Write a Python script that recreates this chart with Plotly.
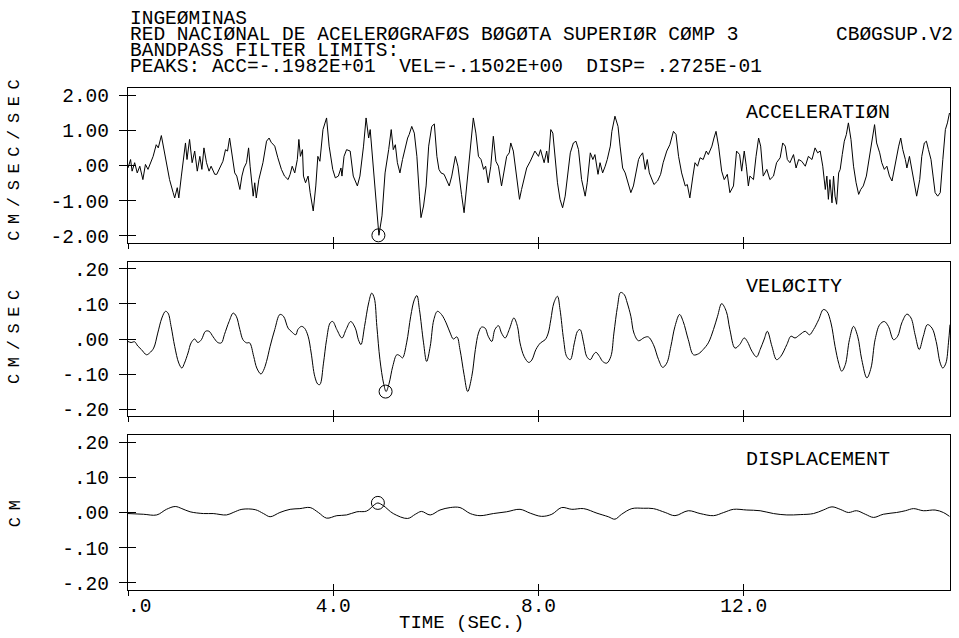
import plotly.graph_objects as go

# acceleration trace (cm/sec/sec)
acc_t = [0.00, 0.05, 0.08, 0.13, 0.18, 0.23, 0.29, 0.34, 0.39, 0.44, 0.49, 0.55, 0.59, 0.65, 0.70, 0.75,
         0.81, 0.88, 0.91, 0.96, 0.99, 1.04, 1.09, 1.12, 1.15, 1.20, 1.25, 1.30, 1.35, 1.40, 1.44, 1.48,
         1.53, 1.58, 1.62, 1.69, 1.73, 1.79, 1.85, 1.90, 1.94, 1.98, 2.03, 2.08, 2.12, 2.18, 2.22, 2.26,
         2.31, 2.35, 2.38, 2.44, 2.47, 2.50, 2.55, 2.63, 2.70, 2.75, 2.79, 2.86, 2.92, 2.99, 3.05, 3.12,
         3.16, 3.20, 3.25, 3.30, 3.33, 3.36, 3.40, 3.42, 3.46, 3.51, 3.55, 3.61, 3.66, 3.70, 3.74, 3.80,
         3.87, 3.92, 3.99, 4.04, 4.10, 4.15, 4.17, 4.21, 4.26, 4.33, 4.39, 4.47, 4.52, 4.59, 4.64, 4.69,
         4.72, 4.77, 4.82, 4.86, 4.89, 4.95, 5.01, 5.08, 5.13, 5.17, 5.21, 5.25, 5.30, 5.35, 5.40, 5.45,
         5.48, 5.53, 5.58, 5.63, 5.68, 5.71, 5.76, 5.81, 5.86, 5.92, 5.97, 6.02, 6.06, 6.10, 6.16, 6.21,
         6.26, 6.31, 6.38, 6.43, 6.47, 6.50, 6.55, 6.60, 6.67, 6.73, 6.78, 6.83, 6.88, 6.93, 6.97, 7.02,
         7.07, 7.12, 7.17, 7.22, 7.28, 7.33, 7.38, 7.43, 7.46, 7.51, 7.58, 7.63, 7.67, 7.72, 7.77, 7.84,
         7.93, 8.00, 8.04, 8.11, 8.16, 8.19, 8.24, 8.28, 8.32, 8.37, 8.42, 8.47, 8.52, 8.57, 8.62, 8.68,
         8.73, 8.78, 8.84, 8.91, 8.95, 9.01, 9.06, 9.10, 9.16, 9.20, 9.25, 9.30, 9.34, 9.40, 9.43, 9.49,
         9.55, 9.59, 9.64, 9.69, 9.74, 9.80, 9.85, 9.90, 9.95, 9.98, 10.03, 10.08, 10.12, 10.16, 10.21,
         10.25, 10.32, 10.38, 10.43, 10.50, 10.56, 10.63, 10.68, 10.73, 10.79, 10.86, 10.90, 10.95, 11.01,
         11.05, 11.10, 11.15, 11.21, 11.27, 11.31, 11.38, 11.42, 11.46, 11.51, 11.57, 11.62, 11.68, 11.73,
         11.80, 11.86, 11.92, 11.96, 12.01, 12.05, 12.09, 12.12, 12.19, 12.24, 12.29, 12.33, 12.38, 12.45,
         12.51, 12.58, 12.64, 12.71, 12.76, 12.81, 12.85, 12.90, 12.97, 13.02, 13.07, 13.13, 13.20, 13.26,
         13.33, 13.39, 13.44, 13.49, 13.54, 13.59, 13.62, 13.65, 13.68, 13.72, 13.75, 13.78, 13.81, 13.85,
         13.88, 13.92, 13.96, 14.00, 14.04, 14.09, 14.14, 14.19, 14.24, 14.28, 14.33, 14.39, 14.45, 14.50,
         14.55, 14.59, 14.65, 14.69, 14.74, 14.79, 14.84, 14.89, 14.93, 14.97, 15.02, 15.06, 15.10, 15.15,
         15.18, 15.23, 15.28, 15.32, 15.37, 15.43, 15.47, 15.52, 15.56, 15.60, 15.65, 15.69, 15.73, 15.78,
         15.83, 15.88, 15.93, 15.97, 16.01]
acc = [-0.07, 0.17, -0.16, 0.08, -0.21, -0.02, -0.40, 0.03, -0.11, 0.08, 0.26, 0.59, 0.50, 0.85, 0.45, -0.02,
       -0.40, -0.77, -0.92, -0.63, -0.92, -0.30, 0.36, 0.64, 0.17, 0.74, 0.08, 0.41, -0.16, 0.26, -0.11, 0.50,
       0.08, -0.16, -0.02, -0.25, -0.25, -0.07, 0.12, 0.45, 0.41, 0.78, 0.26, -0.21, -0.30, -0.68, -0.30, -0.07,
       0.08, 0.50, -0.02, -0.87, -0.49, -0.92, -0.40, 0.08, 0.69, 0.78, 0.66, 0.55, 0.22, -0.11, -0.30, -0.40,
       -0.25, -0.02, -0.21, 0.17, 0.74, 0.26, 0.45, -0.30, -0.49, -0.30, -0.77, -1.29, -0.58, 0.26, 0.12, 1.02,
       1.35, 0.55, -0.11, -0.35, -0.30, -0.07, -0.30, 0.26, 0.45, 0.41, -0.30, -0.58, -0.30, 0.55, 1.35, 0.78,
       1.02, 0.12, -0.68, -1.34, -1.98, -1.43, -0.21, 0.45, 1.02, 0.45, 0.59, 0.08, -0.21, 0.17, 0.50, 0.78,
       0.88, 1.11, 0.92, 0.26, -0.87, -1.48, -1.15, -0.58, 0.55, 1.11, 1.18, 0.26, -0.11, -0.21, -0.25, -0.40,
       -0.58, -0.30, 0.26, -0.02, -0.40, -0.82, -1.34, -0.58, 0.55, 1.35, 0.92, 0.26, 0.17, -0.11, -0.02, -0.49,
       -0.02, 0.83, 0.12, -0.02, -0.58, -0.11, 0.26, 0.36, 0.64, 0.41, -0.40, -0.96, -0.68, -0.40, -0.07, 0.12,
       0.41, 0.26, 0.45, 0.08, 0.41, 0.08, 1.02, 0.92, 0.26, -0.49, -0.96, -1.20, -0.87, -0.30, 0.36, 0.64,
       0.69, 0.45, -0.40, -0.87, -0.49, 0.36, 0.17, 0.31, -0.25, 0.08, -0.21, -0.02, 0.17, 0.55, 0.97, 1.40,
       1.11, 0.55, -0.07, -0.21, -0.49, -0.77, -0.58, -0.21, 0.17, 0.26, 0.36, -0.11, 0.17, -0.21, -0.40,
       -0.54, -0.44, -0.25, 0.08, 0.41, 0.59, 0.97, 0.88, 0.26, -0.21, -0.58, -0.54, -0.92, -0.30,
       0.08, -0.02, 0.22, 0.17, 0.41, 0.31, 0.55, 0.78, 0.97, 0.55, -0.16, -0.40, -0.25, -0.77,
       -0.58, 0.41, 0.31, -0.16, 0.41, -0.02, -0.58, -0.30, -0.40, 0.26, 0.78, 0.55, -0.30, -0.11,
       -0.40, -0.30, 0.08, 0.22, 0.64, 0.55, 0.17, 0.08, 0.31, -0.07, 0.17, 0.12, -0.02, 0.26,
       0.17, 0.50, 0.36, 0.41, -0.02, -0.68, -0.30, -0.96, -0.40, -1.06, -0.30, -0.87, -1.10, -0.21,
       -0.11, 0.31, 0.69, 0.88, 1.21, 0.74, -0.02, -0.49, -0.82, -0.68, -0.58, -0.30, 0.26, 0.83,
       1.16, 0.64, 0.36, 0.08, -0.11, -0.02, -0.30, -0.44, -0.11, 0.17, 0.55, 0.78, 0.45, 0.17,
       -0.07, 0.26, -0.11, -0.40, -0.87, -0.40, 0.26, 0.64, 0.69, 0.45, 0.17, -0.30, -0.77, -0.87,
       -0.77, 0.17, 1.02, 1.21, 1.49]

# velocity trace (cm/sec)
vel_t = [0.00, 0.06, 0.13, 0.19, 0.26, 0.36, 0.42, 0.50, 0.58, 0.66, 0.73, 0.78, 0.84, 0.91, 0.99, 1.05,
         1.10, 1.17, 1.23, 1.30, 1.36, 1.43, 1.51, 1.58, 1.66, 1.75, 1.82, 1.88, 1.97, 2.05, 2.11, 2.18,
         2.24, 2.31, 2.37, 2.45, 2.51, 2.59, 2.64, 2.70, 2.77, 2.86, 2.96, 3.03, 3.12, 3.18, 3.27, 3.31,
         3.38, 3.44, 3.51, 3.57, 3.64, 3.70, 3.74, 3.81, 3.87, 3.94, 3.99, 4.07, 4.17, 4.25, 4.34, 4.43,
         4.49, 4.54, 4.61, 4.69, 4.75, 4.80, 4.85, 4.91, 4.98, 5.03, 5.09, 5.16, 5.24, 5.30, 5.35, 5.43,
         5.51, 5.58, 5.63, 5.68, 5.76, 5.82, 5.89, 5.96, 6.03, 6.11, 6.20, 6.28, 6.34, 6.41, 6.47, 6.55,
         6.62, 6.70, 6.77, 6.83, 6.89, 6.96, 7.02, 7.09, 7.15, 7.22, 7.28, 7.35, 7.43, 7.52, 7.59, 7.64,
         7.72, 7.81, 7.87, 7.95, 8.04, 8.13, 8.19, 8.24, 8.30, 8.37, 8.42, 8.49, 8.55, 8.62, 8.70, 8.76,
         8.81, 8.88, 8.94, 9.01, 9.07, 9.12, 9.19, 9.25, 9.33, 9.41, 9.47, 9.54, 9.60, 9.67, 9.73, 9.80,
         9.86, 9.95, 10.06, 10.14, 10.24, 10.34, 10.42, 10.50, 10.58, 10.66, 10.75, 10.82, 10.92, 11.02,
         11.12, 11.21, 11.31, 11.41, 11.49, 11.57, 11.66, 11.73, 11.83, 11.92, 12.01, 12.07, 12.16, 12.25,
         12.32, 12.40, 12.46, 12.55, 12.64, 12.72, 12.84, 12.92, 13.00, 13.09, 13.20, 13.28, 13.36, 13.46,
         13.55, 13.62, 13.70, 13.78, 13.85, 13.91, 13.98, 14.06, 14.14, 14.22, 14.30, 14.40, 14.48, 14.56,
         14.65, 14.74, 14.82, 14.92, 15.00, 15.08, 15.18, 15.26, 15.34, 15.42, 15.50, 15.58, 15.67, 15.75,
         15.83, 15.88, 15.94, 15.99, 16.02]
vel = [-0.007, -0.010, -0.008, -0.020, -0.030, -0.045, -0.040, -0.026, 0.017, 0.060, 0.079, 0.074, 0.036, -0.021, -0.069, -0.083,
       -0.069, -0.040, -0.011, 0.000, -0.010, -0.002, 0.022, 0.022, 0.006, -0.010, -0.011, 0.013, 0.050, 0.074, 0.065, 0.027,
       -0.002, -0.011, -0.011, -0.050, -0.083, -0.100, -0.090, -0.064, -0.021, 0.027, 0.070, 0.065, 0.031, 0.022, 0.012, 0.027,
       0.036, 0.031, 0.008, -0.040, -0.107, -0.129, -0.130, -0.069, -0.002, 0.046, 0.050, 0.027, 0.003, 0.027, 0.050, 0.031,
       -0.002, -0.016, 0.036, 0.103, 0.131, 0.117, 0.036, -0.059, -0.126, -0.150, -0.126, -0.078, -0.045, -0.048, -0.054, -0.011,
       0.065, 0.112, 0.124, 0.084, -0.011, -0.064, -0.021, 0.055, 0.079, 0.070, 0.046, 0.017, 0.000, 0.006, -0.030, -0.102,
       -0.150, -0.107, -0.030, 0.017, 0.034, 0.031, 0.008, -0.007, 0.027, 0.038, 0.017, 0.003, 0.027, 0.060, 0.036, -0.011,
       -0.050, -0.067, -0.060, -0.030, -0.011, -0.002, 0.017, 0.055, 0.103, 0.122, 0.084, -0.002, -0.050, -0.059, -0.011, 0.022,
       0.027, -0.011, -0.050, -0.059, -0.045, -0.038, -0.050, -0.064, -0.069, -0.050, 0.017, 0.093, 0.133, 0.127, 0.103, 0.065,
       0.017, -0.005, 0.004, 0.006, -0.016, -0.059, -0.081, -0.069, -0.021, 0.036, 0.070, 0.050, -0.002, -0.045,
       -0.042, -0.030, -0.011, 0.027, 0.065, 0.101, 0.079, 0.027, -0.026, -0.016, 0.003, -0.007, -0.035, -0.051,
       -0.030, 0.000, 0.022, -0.021, -0.059, -0.050, -0.016, 0.008, 0.003, 0.012, 0.022, 0.012, 0.027, 0.055,
       0.084, 0.079, 0.046, -0.021, -0.069, -0.092, -0.073, -0.002, 0.036, 0.008, -0.059, -0.111, -0.083, -0.002,
       0.041, 0.050, 0.036, -0.002, 0.008, 0.046, 0.071, 0.060, 0.012, -0.030, 0.008, 0.041, 0.031, -0.007,
       -0.069, -0.083, -0.069, -0.011, 0.041]

# displacement trace (cm)
disp_t = [0.00, 0.30, 0.56, 0.75, 0.92, 1.05, 1.21, 1.47, 1.66, 1.92, 2.05, 2.22, 2.48, 2.64, 2.77, 2.96,
          3.16, 3.35, 3.55, 3.71, 3.87, 4.07, 4.26, 4.46, 4.65, 4.81, 4.87, 4.98, 5.17, 5.45, 5.60, 5.72,
          5.89, 6.08, 6.28, 6.47, 6.67, 6.86, 7.12, 7.38, 7.64, 7.84, 8.06, 8.26, 8.45, 8.65, 8.88, 9.14,
          9.36, 9.49, 9.62, 9.82, 10.05, 10.24, 10.47, 10.66, 10.92, 11.15, 11.41, 11.61, 11.80, 12.06,
          12.32, 12.58, 12.84, 13.10, 13.36, 13.55, 13.72, 13.88, 14.04, 14.20, 14.37, 14.53, 14.72, 14.98,
          15.15, 15.31, 15.50, 15.73, 15.89, 16.01]
disp = [-0.003, -0.005, -0.007, 0.009, 0.017, 0.011, 0.002, -0.003, -0.003, -0.007, 0.000, 0.009, 0.008, -0.003, -0.012, 0.000,
        0.009, 0.011, 0.014, 0.000, -0.016, -0.009, -0.007, 0.002, 0.004, 0.023, 0.027, 0.019, -0.003, -0.017, -0.005, 0.003,
        -0.007, 0.007, 0.014, 0.014, -0.003, -0.009, -0.003, 0.002, 0.009, -0.002, -0.011, -0.005, 0.014, 0.009, 0.011, -0.002,
        -0.012, -0.019, -0.005, 0.011, 0.012, 0.011, 0.000, -0.009, 0.005, -0.003, -0.009, 0.000, 0.009, 0.007,
        0.005, -0.003, -0.007, -0.006, -0.003, 0.007, 0.016, 0.009, 0.000, 0.005, -0.005, -0.014, -0.005, 0.000,
        0.005, 0.011, 0.005, 0.007, 0.000, -0.011]

# peak values marked with circles
peak_t = [4.88, 5.02, 4.87]
peak_v = [-1.982, -0.1502, 0.02725]

header = ["INGEØMINAS",
          "RED NACIØNAL DE ACELERØGRAFØS BØGØTA SUPERIØR CØMP 3",
          "BANDPASS FILTER LIMITS:",
          "PEAKS: ACC=-.1982E+01\u00a0\u00a0VEL=-.1502E+00\u00a0\u00a0DISP=\u00a0.2725E-01"]
file_tag = "CBØGSUP.V2"
panel_names = ["ACCELERATIØN", "VELØCITY", "DISPLACEMENT"]
units = ["CM/SEC/SEC", "CM/SEC", "CM"]

acc_ticks = [-2, -1, 0, 1, 2]
acc_labels = ["-2.00", "-1.00", ".00", "1.00", "2.00"]
small_ticks = [-0.2, -0.1, 0, 0.1, 0.2]
small_labels = ["-.20", "-.10", ".00", ".10", ".20"]
time_ticks = [0, 4, 8, 12]
time_labels = ["\u00a0\u00a0.0", "4.0", "8.0", "12.0"]

FONT = "Liberation Mono"
INK = "black"

domains = [[0.6912, 1.0], [0.3466, 0.6534], [0.0, 0.3088]]
yranges = [[-2.2, 2.2], [-0.22, 0.22], [-0.22, 0.22]]
xrange_ = [0, 16.02]

fig = go.Figure()
series = [(acc_t, acc, "linear"), (vel_t, vel, "spline"), (disp_t, disp, "spline")]
for i, (tt, vv, shp) in enumerate(series):
    n = "" if i == 0 else str(i + 1)
    fig.add_trace(go.Scatter(x=tt, y=vv, mode="lines", line=dict(color=INK, width=1, shape=shp),
                             xaxis="x" + n, yaxis="y" + n, showlegend=False, hoverinfo="skip"))
    fig.add_trace(go.Scatter(x=[peak_t[i]], y=[peak_v[i]], mode="markers",
                             marker=dict(symbol="circle-open", size=13, color=INK, line=dict(width=1)),
                             xaxis="x" + n, yaxis="y" + n, showlegend=False))
    # empty trace so the overlay axes (inner half of the tick crosses) get drawn
    fig.add_trace(go.Scatter(x=[None], y=[None], xaxis="x" + str(i + 4), yaxis="y" + str(i + 4),
                             showlegend=False))

tick_font = dict(family=FONT, size=19.5, color=INK)
layout = dict(width=959, height=638, plot_bgcolor="white", paper_bgcolor="white",
              margin=dict(l=128, r=9, t=88, b=48), showlegend=False)

for i in range(3):
    n = "" if i == 0 else str(i + 1)
    k = str(i + 4)
    yt = acc_ticks if i == 0 else small_ticks
    yl = acc_labels if i == 0 else small_labels
    layout["xaxis" + n] = dict(domain=[0, 1], anchor="y" + n, range=xrange_, tickmode="array",
                               tickvals=time_ticks, ticktext=time_labels, showticklabels=(i == 2),
                               ticks="outside", ticklen=5, tickwidth=1, tickcolor=INK,
                               ticklabelstandoff=-8,
                               showline=True, mirror=True, linecolor=INK, linewidth=1.2,
                               showgrid=False, zeroline=False, tickfont=tick_font)
    layout["yaxis" + n] = dict(domain=domains[i], anchor="x" + n, range=yranges[i], tickmode="array",
                               tickvals=yt, ticktext=yl, ticks="outside", ticklen=8, tickwidth=1,
                               tickcolor=INK, ticklabelstandoff=6,
                               showline=True, mirror=True, linecolor=INK, linewidth=1.2,
                               showgrid=False, zeroline=False, tickfont=tick_font)
    layout["xaxis" + k] = dict(overlaying="x" + n, anchor="y" + k, range=xrange_, tickmode="array",
                               tickvals=time_ticks, showticklabels=False, ticks="inside", ticklen=6,
                               tickwidth=1, tickcolor=INK, showline=False, showgrid=False, zeroline=False)
    layout["yaxis" + k] = dict(overlaying="y" + n, anchor="x" + k, range=yranges[i], tickmode="array",
                               tickvals=yt, showticklabels=False, ticks="inside", ticklen=8,
                               tickwidth=1, tickcolor=INK, showline=False, showgrid=False, zeroline=False)

fig.update_layout(**layout)

head_y = [1.137, 1.105, 1.074, 1.041]
for line, y in zip(header, head_y):
    fig.add_annotation(text=line, xref="paper", yref="paper", x=0, y=y, xanchor="left",
                       yanchor="middle", showarrow=False, font=dict(family=FONT, size=19.5, color=INK))
fig.add_annotation(text=file_tag, xref="paper", yref="paper", x=1.006, y=head_y[1], xanchor="right",
                   yanchor="middle", showarrow=False, font=dict(family=FONT, size=19.5, color=INK))

gap = '<span style="font-size:11px">\u00a0</span>'
unit_y = [0.857, 0.504, 0.153]
for i in range(3):
    n = "" if i == 0 else str(i + 1)
    fig.add_annotation(text=panel_names[i], xref="x" + n, yref="y" + n + " domain", x=12.0, y=0.84,
                       xanchor="left", yanchor="middle", showarrow=False,
                       font=dict(family=FONT, size=20, color=INK))
    fig.add_annotation(text=gap.join(units[i]), xref="paper", yref="paper", x=-0.1375, y=unit_y[i],
                       textangle=-90, xanchor="center", yanchor="middle", showarrow=False,
                       font=dict(family=FONT, size=17, color=INK))

fig.add_annotation(text="TIME (SEC.)", xref="paper", yref="paper", x=0.406, y=-0.066,
                   xanchor="center", yanchor="middle", showarrow=False,
                   font=dict(family=FONT, size=19, color=INK))

# page body has a default 8px margin; drop it so the figure sits at the window origin
fig.write_html("out.html", config={"displayModeBar": False},
               post_script="document.body.style.margin='0';")
